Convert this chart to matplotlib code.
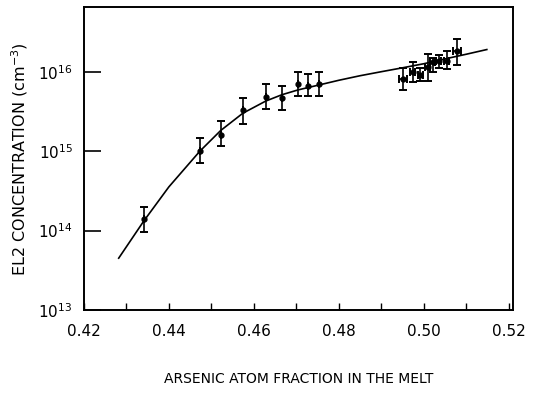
import numpy as np
import matplotlib
matplotlib.use("Agg")
import matplotlib.pyplot as plt

# Measured EL2 concentrations (cm^-3) vs arsenic atom fraction
x_frac = [0.4341, 0.4473, 0.4522, 0.4574, 0.4628, 0.4666, 0.4704, 0.4727, 0.4753,
          0.4951, 0.4974, 0.4991, 0.5009, 0.5021, 0.5035, 0.5054, 0.5078]
el2 = [1.4e14, 1.0e15, 1.62e15, 3.3e15, 4.8e15, 4.6e15, 6.9e15, 6.7e15, 7.1e15,
       8.0e15, 1.0e16, 9.0e15, 1.15e16, 1.33e16, 1.37e16, 1.37e16, 1.8e16]
el2_hi = [2.0e14, 1.45e15, 2.4e15, 4.7e15, 6.9e15, 6.7e15, 1.0e16, 9.4e15, 1.0e16,
          1.12e16, 1.33e16, 1.1e16, 1.67e16, 1.5e16, 1.6e16, 1.8e16, 2.55e16]
el2_lo = [9.5e13, 7.1e14, 1.15e15, 2.2e15, 3.4e15, 3.3e15, 5.0e15, 4.9e15, 5.0e15,
          5.8e15, 7.5e15, 7.7e15, 7.7e15, 1.0e16, 1.1e16, 1.09e16, 1.22e16]
x_err = [0, 0, 0, 0, 0, 0, 0, 0, 0,
         0.001, 0.0006, 0.0006, 0.0006, 0.0006, 0.0006, 0.0006, 0.001]

# Smooth trend line drawn through the data
curve_x = [0.4282, 0.4341, 0.440, 0.4473, 0.4522, 0.4574, 0.4628, 0.4666, 0.4704,
           0.4753, 0.480, 0.485, 0.490, 0.495, 0.500, 0.505, 0.510, 0.5148]
curve_y = [4.5e13, 1.32e14, 3.55e14, 1.0e15, 1.82e15, 3.0e15, 4.27e15, 5.13e15, 5.9e15,
           6.8e15, 7.8e15, 8.9e15, 1.0e16, 1.12e16, 1.26e16, 1.45e16, 1.66e16, 1.9e16]

fig = plt.figure(figsize=(5.34, 3.94), dpi=100)
ax = fig.add_axes([0.157, 0.213, 0.804, 0.769])

ax.plot(curve_x, curve_y, color='black', lw=1.2)

y = np.array(el2)
yerr = [y - np.array(el2_lo), np.array(el2_hi) - y]
ax.errorbar(x_frac, el2, yerr=yerr, xerr=x_err, fmt='o', color='black',
            ms=3.5, elinewidth=1.2, capsize=3, capthick=1.4)

ax.set_yscale('log')
ax.set_xlim(0.42, 0.521)
ax.set_ylim(1e13, 6.5e16)

ax.set_xticks([0.42, 0.44, 0.46, 0.48, 0.50, 0.52])
ax.set_xticklabels(['0.42', '0.44', '0.46', '0.48', '0.50', '0.52'])
ax.set_xticks(np.arange(0.43, 0.52, 0.02), minor=True)
ax.set_yticks([1e13, 1e14, 1e15, 1e16])
ax.set_yticklabels(['$10^{13}$', '$10^{14}$', '$10^{15}$', '$10^{16}$'])
ax.yaxis.set_minor_locator(matplotlib.ticker.NullLocator())

ax.tick_params(axis='x', which='both', direction='in', length=5, width=1.0,
               labelsize=11, pad=10)
ax.tick_params(axis='y', which='major', direction='in', length=12, width=1.2,
               labelsize=11, pad=8)

for s in ax.spines.values():
    s.set_linewidth(1.4)

ax.set_xlabel('ARSENIC ATOM FRACTION IN THE MELT', fontsize=10, labelpad=24)
ax.set_ylabel('EL2 CONCENTRATION (cm$^{-3}$)', fontsize=11.5, labelpad=6)

fig.savefig('out.png', dpi=100)
